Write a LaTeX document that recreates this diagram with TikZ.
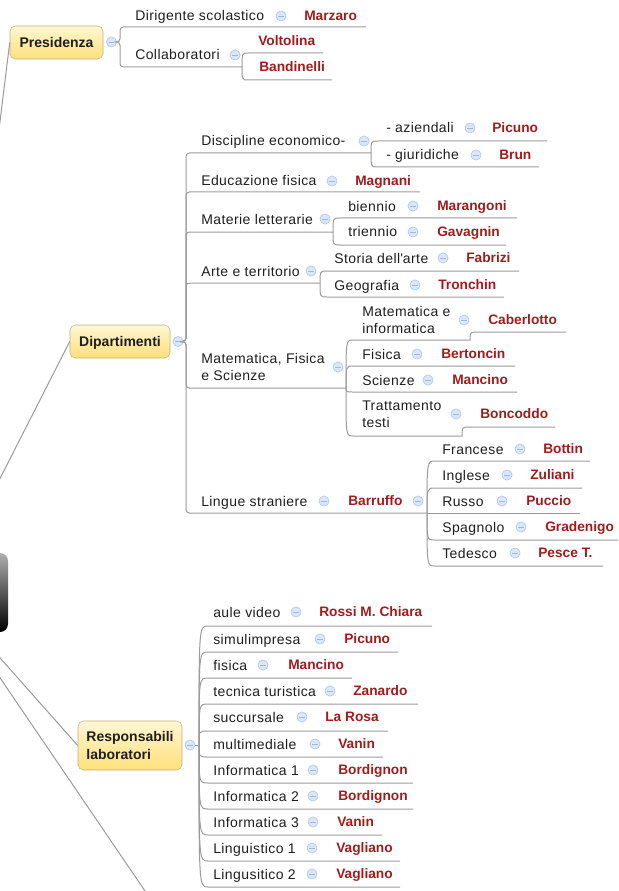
\documentclass[tikz,border=0pt]{standalone}
\usepackage{fontspec}
\setmainfont{Liberation Sans}
\newfontfamily\topicfont[LetterSpace=3]{Liberation Sans}
\usepackage{tikz}
\definecolor{linegray}{RGB}{155,155,155}
\definecolor{txtgray}{RGB}{30,30,30}
\definecolor{leafred}{RGB}{160,28,28}
\definecolor{boxline}{RGB}{190,175,125}
\definecolor{boxtop}{RGB}{255,247,212}
\definecolor{boxbot}{RGB}{255,224,122}
\definecolor{foldfill}{RGB}{218,231,249}
\definecolor{folddraw}{RGB}{176,199,236}
\definecolor{foldminus}{RGB}{160,183,222}
\definecolor{centtop}{RGB}{175,175,175}

\begin{document}
\begin{tikzpicture}[x=0.75pt,y=0.75pt,yscale=-1,xscale=1,
  branch/.style={draw=linegray, line width=0.75pt},
  elbow/.style={branch, rounded corners=2.5pt},
  txt/.style={anchor=west, inner sep=0pt, text=txtgray, font=\topicfont\fontsize{10.5}{12.75}\selectfont},
  topic/.style={txt, text height=7.5pt, text depth=0pt},
  twoline/.style={txt, align=left},
  leaf/.style={anchor=west, inner sep=0pt, text=leafred, text height=7.4pt, text depth=0pt, font=\bfseries\fontsize{10.3}{12}\selectfont},
  box/.style={draw=boxline, rounded corners=4pt, top color=boxtop, bottom color=boxbot, inner sep=0pt, text=txtgray, font=\bfseries\fontsize{10.5}{13.5}\selectfont},
  onebox/.style={box, text height=7.5pt, text depth=0pt},
  centbox/.style={rounded corners=6pt, top color=centtop, bottom color=black, minimum width=99pt, minimum height=59.25pt},
  fold/.style={circle, draw=folddraw, fill=foldfill, line width=0.5pt, minimum size=7.6pt, inner sep=0pt,
    path picture={\draw[foldminus, line width=0.6pt] ([xshift=-2.1pt]path picture bounding box.center) -- ([xshift=2.1pt]path picture bounding box.center);}}]
\path[use as bounding box] (0,0) rectangle (618,891);
\clip (0,0) rectangle (618,891);

%Central topic (cut by the left edge)
\node[centbox] (centr) at (-58,592.5) {};
\coordinate (nextbranch) at (160,913);

% Main topics
\node[onebox, minimum width=69.75pt, minimum height=24.75pt] (pres) at (56.5,42.5) {Presidenza};
\node[onebox, minimum width=75pt, minimum height=24.75pt] (dip) at (120,341.5) {Dipartimenti};
\node[box, align=left, minimum width=78pt, minimum height=36.75pt] (resp) at (130,745.5) {Responsabili\\laboratori};

%Straight Lines from the central topic
\draw[branch] (centr) -- (pres.west);
\draw[branch] (centr) -- (dip.west);
\draw[branch] (centr) -- (resp.west);
\draw[branch] (centr) -- (nextbranch);

%%%%%%%%%% Presidenza
\node[fold] (f-pres) at (111.5,42) {};
\coordinate (j-pres) at (120,42);

% Text Node
\node[topic] (dirig) at (135,16) {Dirigente scolastico};
\node[fold] (f-dirig) at (281,16) {};
\node[leaf] (marzaro) at (304,16) {Marzaro};
\coordinate (e-dirig) at (366,27);
\draw[elbow] (f-pres) -- (j-pres) |- (e-dirig);

% Text Node
\node[topic] (collab) at (135,55) {Collaboratori};
\node[fold] (f-collab) at (235,55) {};
\coordinate (j-collab) at (242,67);
\draw[elbow] (f-pres) -- (j-pres) |- (j-collab);

\node[leaf] (voltolina) at (258,41) {Voltolina};
\coordinate (s-volt) at (249,53); \coordinate (e-volt) at (323,53);
\draw[branch] (j-collab) .. controls (j-collab |- s-volt) .. (s-volt) -- (e-volt);

\node[leaf] (bandinelli) at (259,67) {Bandinelli};
\coordinate (s-band) at (249,80); \coordinate (e-band) at (332,80);
\draw[branch] (j-collab) .. controls (j-collab |- s-band) .. (s-band) -- (e-band);

%%%%%%%%%% Dipartimenti
\node[fold] (f-dip) at (178,341.5) {};
\coordinate (j-dip) at (186,341.5);

% Text Node
\node[topic] (discipl) at (201,141) {Discipline economico-};
\node[fold] (f-discipl) at (364,141) {};
\coordinate (j-discipl) at (371,153);
\draw[elbow] (f-dip) -- (j-dip) |- (j-discipl);

\node[topic] (aziend) at (386,128) {- aziendali};
\node[fold] (f-aziend) at (470,128) {};
\node[leaf] (picuno) at (492,128) {Picuno};
\coordinate (s-aziend) at (378,141); \coordinate (e-aziend) at (547,141);
\draw[branch] (j-discipl) .. controls (j-discipl |- s-aziend) .. (s-aziend) -- (e-aziend);

\node[topic] (giurid) at (386,155) {- giuridiche};
\node[fold] (f-giurid) at (476,155) {};
\node[leaf] (brun) at (499,155) {Brun};
\coordinate (s-giurid) at (378,167); \coordinate (e-giurid) at (539,167);
\draw[branch] (j-discipl) .. controls (j-discipl |- s-giurid) .. (s-giurid) -- (e-giurid);

% Text Node
\node[topic] (edufis) at (201,181) {Educazione fisica};
\node[fold] (f-edufis) at (332,181) {};
\node[leaf] (magnani) at (355,181) {Magnani};
\coordinate (e-edufis) at (420,192);
\draw[elbow] (f-dip) -- (j-dip) |- (e-edufis);

% Text Node
\node[topic] (materie) at (201,219) {Materie letterarie};
\node[fold] (f-materie) at (325,219) {};
\coordinate (j-materie) at (333,232);
\draw[elbow] (f-dip) -- (j-dip) |- (j-materie);

\node[topic] (biennio) at (348,206) {biennio};
\node[fold] (f-biennio) at (413,206) {};
\node[leaf] (marangoni) at (437,206) {Marangoni};
\coordinate (s-biennio) at (340,218); \coordinate (e-biennio) at (517,218);
\draw[branch] (j-materie) .. controls (j-materie |- s-biennio) .. (s-biennio) -- (e-biennio);

\node[topic] (triennio) at (348,232) {triennio};
\node[fold] (f-triennio) at (413,232) {};
\node[leaf] (gavagnin) at (437,232) {Gavagnin};
\coordinate (s-triennio) at (340,245); \coordinate (e-triennio) at (506,245);
\draw[branch] (j-materie) .. controls (j-materie |- s-triennio) .. (s-triennio) -- (e-triennio);

% Text Node
\node[topic] (arte) at (201,271) {Arte e territorio};
\node[fold] (f-arte) at (311,271) {};
\coordinate (j-arte) at (320,283);
\draw[elbow] (f-dip) -- (j-dip) |- (j-arte);

\node[topic] (storia) at (334,258) {Storia dell\textquotesingle arte};
\node[fold] (f-storia) at (443,258) {};
\node[leaf] (fabrizi) at (466,258) {Fabrizi};
\coordinate (s-storia) at (327,271); \coordinate (e-storia) at (519,271);
\draw[branch] (j-arte) .. controls (j-arte |- s-storia) .. (s-storia) -- (e-storia);

\node[topic] (geogr) at (334,285) {Geografia};
\node[fold] (f-geogr) at (415,285) {};
\node[leaf] (tronchin) at (438,285) {Tronchin};
\coordinate (s-geogr) at (327,297); \coordinate (e-geogr) at (504,297);
\draw[branch] (j-arte) .. controls (j-arte |- s-geogr) .. (s-geogr) -- (e-geogr);

% Text Node
\node[twoline] (matfis) at (201,366.5) {Matematica, Fisica\\e Scienze};
\node[fold] (f-matfis) at (338,367) {};
\coordinate (j-matfis) at (346,388);
\draw[elbow] (f-dip) -- (j-dip) |- (j-matfis);

\node[twoline] (matinf) at (362,319.5) {Matematica e\\informatica};
\node[fold] (f-matinf) at (464,320) {};
\node[leaf] (caberlotto) at (488,320) {Caberlotto};
\coordinate (s-matinf) at (353,340); \coordinate (k-matinf) at (470,340);
\coordinate (s-caber) at (478,332); \coordinate (e-caber) at (566,332);
\draw[branch] (j-matfis) .. controls (j-matfis |- s-matinf) .. (s-matinf) -- (k-matinf) .. controls (k-matinf |- s-caber) .. (s-caber) -- (e-caber);

\node[topic] (fisica) at (362,354) {Fisica};
\node[fold] (f-fisica) at (417,354) {};
\node[leaf] (bertoncin) at (441,354) {Bertoncin};
\coordinate (s-fisica) at (353,366); \coordinate (e-fisica) at (515,366);
\draw[branch] (j-matfis) .. controls (j-matfis |- s-fisica) .. (s-fisica) -- (e-fisica);

\node[topic] (scienze) at (362,380) {Scienze};
\node[fold] (f-scienze) at (428,380) {};
\node[leaf] (mancino) at (452,380) {Mancino};
\coordinate (s-scienze) at (353,392); \coordinate (e-scienze) at (517,392);
\draw[branch] (j-matfis) .. controls (j-matfis |- s-scienze) .. (s-scienze) -- (e-scienze);

\node[twoline] (tratt) at (362,414.5) {Trattamento\\testi};
\node[fold] (f-tratt) at (456,414) {};
\node[leaf] (boncoddo) at (480,414) {Boncoddo};
\coordinate (s-tratt) at (353,436); \coordinate (k-tratt) at (462,436);
\coordinate (s-bonc) at (470,427); \coordinate (e-bonc) at (555,427);
\draw[branch] (j-matfis) .. controls (j-matfis |- s-tratt) .. (s-tratt) -- (k-tratt) .. controls (k-tratt |- s-bonc) .. (s-bonc) -- (e-bonc);

% Text Node
\node[topic] (lingue) at (201,501) {Lingue straniere};
\node[fold] (f-lingue) at (324,501) {};
\node[leaf] (barruffo) at (348,501) {Barruffo};
\node[fold] (f-barr) at (418,501) {};
\coordinate (j-lingue) at (427,513);
\draw[elbow] (f-dip) -- (j-dip) |- (j-lingue);

\node[topic] (francese) at (442,449) {Francese};
\node[fold] (f-francese) at (520,449) {};
\node[leaf] (bottin) at (543,449) {Bottin};
\coordinate (s-francese) at (435,461); \coordinate (e-francese) at (590,461);
\draw[branch] (j-lingue) .. controls (j-lingue |- s-francese) .. (s-francese) -- (e-francese);

\node[topic] (inglese) at (442,475) {Inglese};
\node[fold] (f-inglese) at (507,475) {};
\node[leaf] (zuliani) at (530,475) {Zuliani};
\coordinate (s-inglese) at (435,488); \coordinate (e-inglese) at (582,488);
\draw[branch] (j-lingue) .. controls (j-lingue |- s-inglese) .. (s-inglese) -- (e-inglese);

\node[topic] (russo) at (442,501) {Russo};
\node[fold] (f-russo) at (502,501) {};
\node[leaf] (puccio) at (526,501) {Puccio};
\coordinate (e-russo) at (580,513);
\draw[branch] (j-lingue) -- (e-russo);

\node[topic] (spagnolo) at (442,527) {Spagnolo};
\node[fold] (f-spagnolo) at (521,527) {};
\node[leaf] (gradenigo) at (545,527) {Gradenigo};
\coordinate (s-spagnolo) at (435,540); \coordinate (e-spagnolo) at (618,540);
\draw[branch] (j-lingue) .. controls (j-lingue |- s-spagnolo) .. (s-spagnolo) -- (e-spagnolo);

\node[topic] (tedesco) at (442,553) {Tedesco};
\node[fold] (f-tedesco) at (515,553) {};
\node[leaf] (pesce) at (538,553) {Pesce T.};
\coordinate (s-tedesco) at (435,566); \coordinate (e-tedesco) at (603,566);
\draw[branch] (j-lingue) .. controls (j-lingue |- s-tedesco) .. (s-tedesco) -- (e-tedesco);

%%%%%%%%%% Responsabili laboratori
\node[fold] (f-resp) at (190,745) {};
\coordinate (j-resp) at (199,745);
\draw[branch] (f-resp) -- (j-resp);

\node[topic] (aule) at (213,612) {aule video};
\node[fold] (f-aule) at (296,612) {};
\node[leaf] (rossi) at (319,612) {Rossi M. Chiara};
\coordinate (s-aule) at (208,626); \coordinate (e-aule) at (432,626);
\draw[branch] (j-resp) .. controls (j-resp |- s-aule) .. (s-aule) -- (e-aule);

\node[topic] (simul) at (213,639) {simulimpresa};
\node[fold] (f-simul) at (320,639) {};
\node[leaf] (picuno2) at (344,639) {Picuno};
\coordinate (s-simul) at (208,652); \coordinate (e-simul) at (398,652);
\draw[branch] (j-resp) .. controls (j-resp |- s-simul) .. (s-simul) -- (e-simul);

\node[topic] (fislab) at (213,665) {fisica};
\node[fold] (f-fislab) at (263,665) {};
\node[leaf] (mancino2) at (288,665) {Mancino};
\coordinate (s-fislab) at (208,678); \coordinate (e-fislab) at (352,678);
\draw[branch] (j-resp) .. controls (j-resp |- s-fislab) .. (s-fislab) -- (e-fislab);

\node[topic] (tecnica) at (213,691) {tecnica turistica};
\node[fold] (f-tecnica) at (330,691) {};
\node[leaf] (zanardo) at (353,691) {Zanardo};
\coordinate (s-tecnica) at (208,704); \coordinate (e-tecnica) at (418,704);
\draw[branch] (j-resp) .. controls (j-resp |- s-tecnica) .. (s-tecnica) -- (e-tecnica);

\node[topic] (succ) at (213,717) {succursale};
\node[fold] (f-succ) at (302,717) {};
\node[leaf] (larosa) at (325,717) {La Rosa};
\coordinate (s-succ) at (208,731); \coordinate (e-succ) at (388,731);
\draw[branch] (j-resp) .. controls (j-resp |- s-succ) .. (s-succ) -- (e-succ);

\node[topic] (multim) at (213,744) {multimediale};
\node[fold] (f-multim) at (315,744) {};
\node[leaf] (vanin) at (338,744) {Vanin};
\coordinate (s-multim) at (208,757); \coordinate (e-multim) at (383,757);
\draw[branch] (j-resp) .. controls (j-resp |- s-multim) .. (s-multim) -- (e-multim);

\node[topic] (info1) at (213,770) {Informatica 1};
\node[fold] (f-info1) at (313,770) {};
\node[leaf] (bordignon) at (338,770) {Bordignon};
\coordinate (s-info1) at (208,783); \coordinate (e-info1) at (413,783);
\draw[branch] (j-resp) .. controls (j-resp |- s-info1) .. (s-info1) -- (e-info1);

\node[topic] (info2) at (213,796) {Informatica 2};
\node[fold] (f-info2) at (313,796) {};
\node[leaf] (bordignon2) at (338,796) {Bordignon};
\coordinate (s-info2) at (208,809); \coordinate (e-info2) at (413,809);
\draw[branch] (j-resp) .. controls (j-resp |- s-info2) .. (s-info2) -- (e-info2);

\node[topic] (info3) at (213,822) {Informatica 3};
\node[fold] (f-info3) at (313,822) {};
\node[leaf] (vanin2) at (337,822) {Vanin};
\coordinate (s-info3) at (208,835); \coordinate (e-info3) at (382,835);
\draw[branch] (j-resp) .. controls (j-resp |- s-info3) .. (s-info3) -- (e-info3);

\node[topic] (ling1) at (213,848) {Linguistico 1};
\node[fold] (f-ling1) at (312,848) {};
\node[leaf] (vagliano) at (336,848) {Vagliano};
\coordinate (s-ling1) at (208,861); \coordinate (e-ling1) at (400,861);
\draw[branch] (j-resp) .. controls (j-resp |- s-ling1) .. (s-ling1) -- (e-ling1);

\node[topic] (ling2) at (213,874) {Lingusitico 2};
\node[fold] (f-ling2) at (312,874) {};
\node[leaf] (vagliano2) at (336,874) {Vagliano};
\coordinate (s-ling2) at (208,887); \coordinate (e-ling2) at (400,887);
\draw[branch] (j-resp) .. controls (j-resp |- s-ling2) .. (s-ling2) -- (e-ling2);

\end{tikzpicture}
\end{document}
